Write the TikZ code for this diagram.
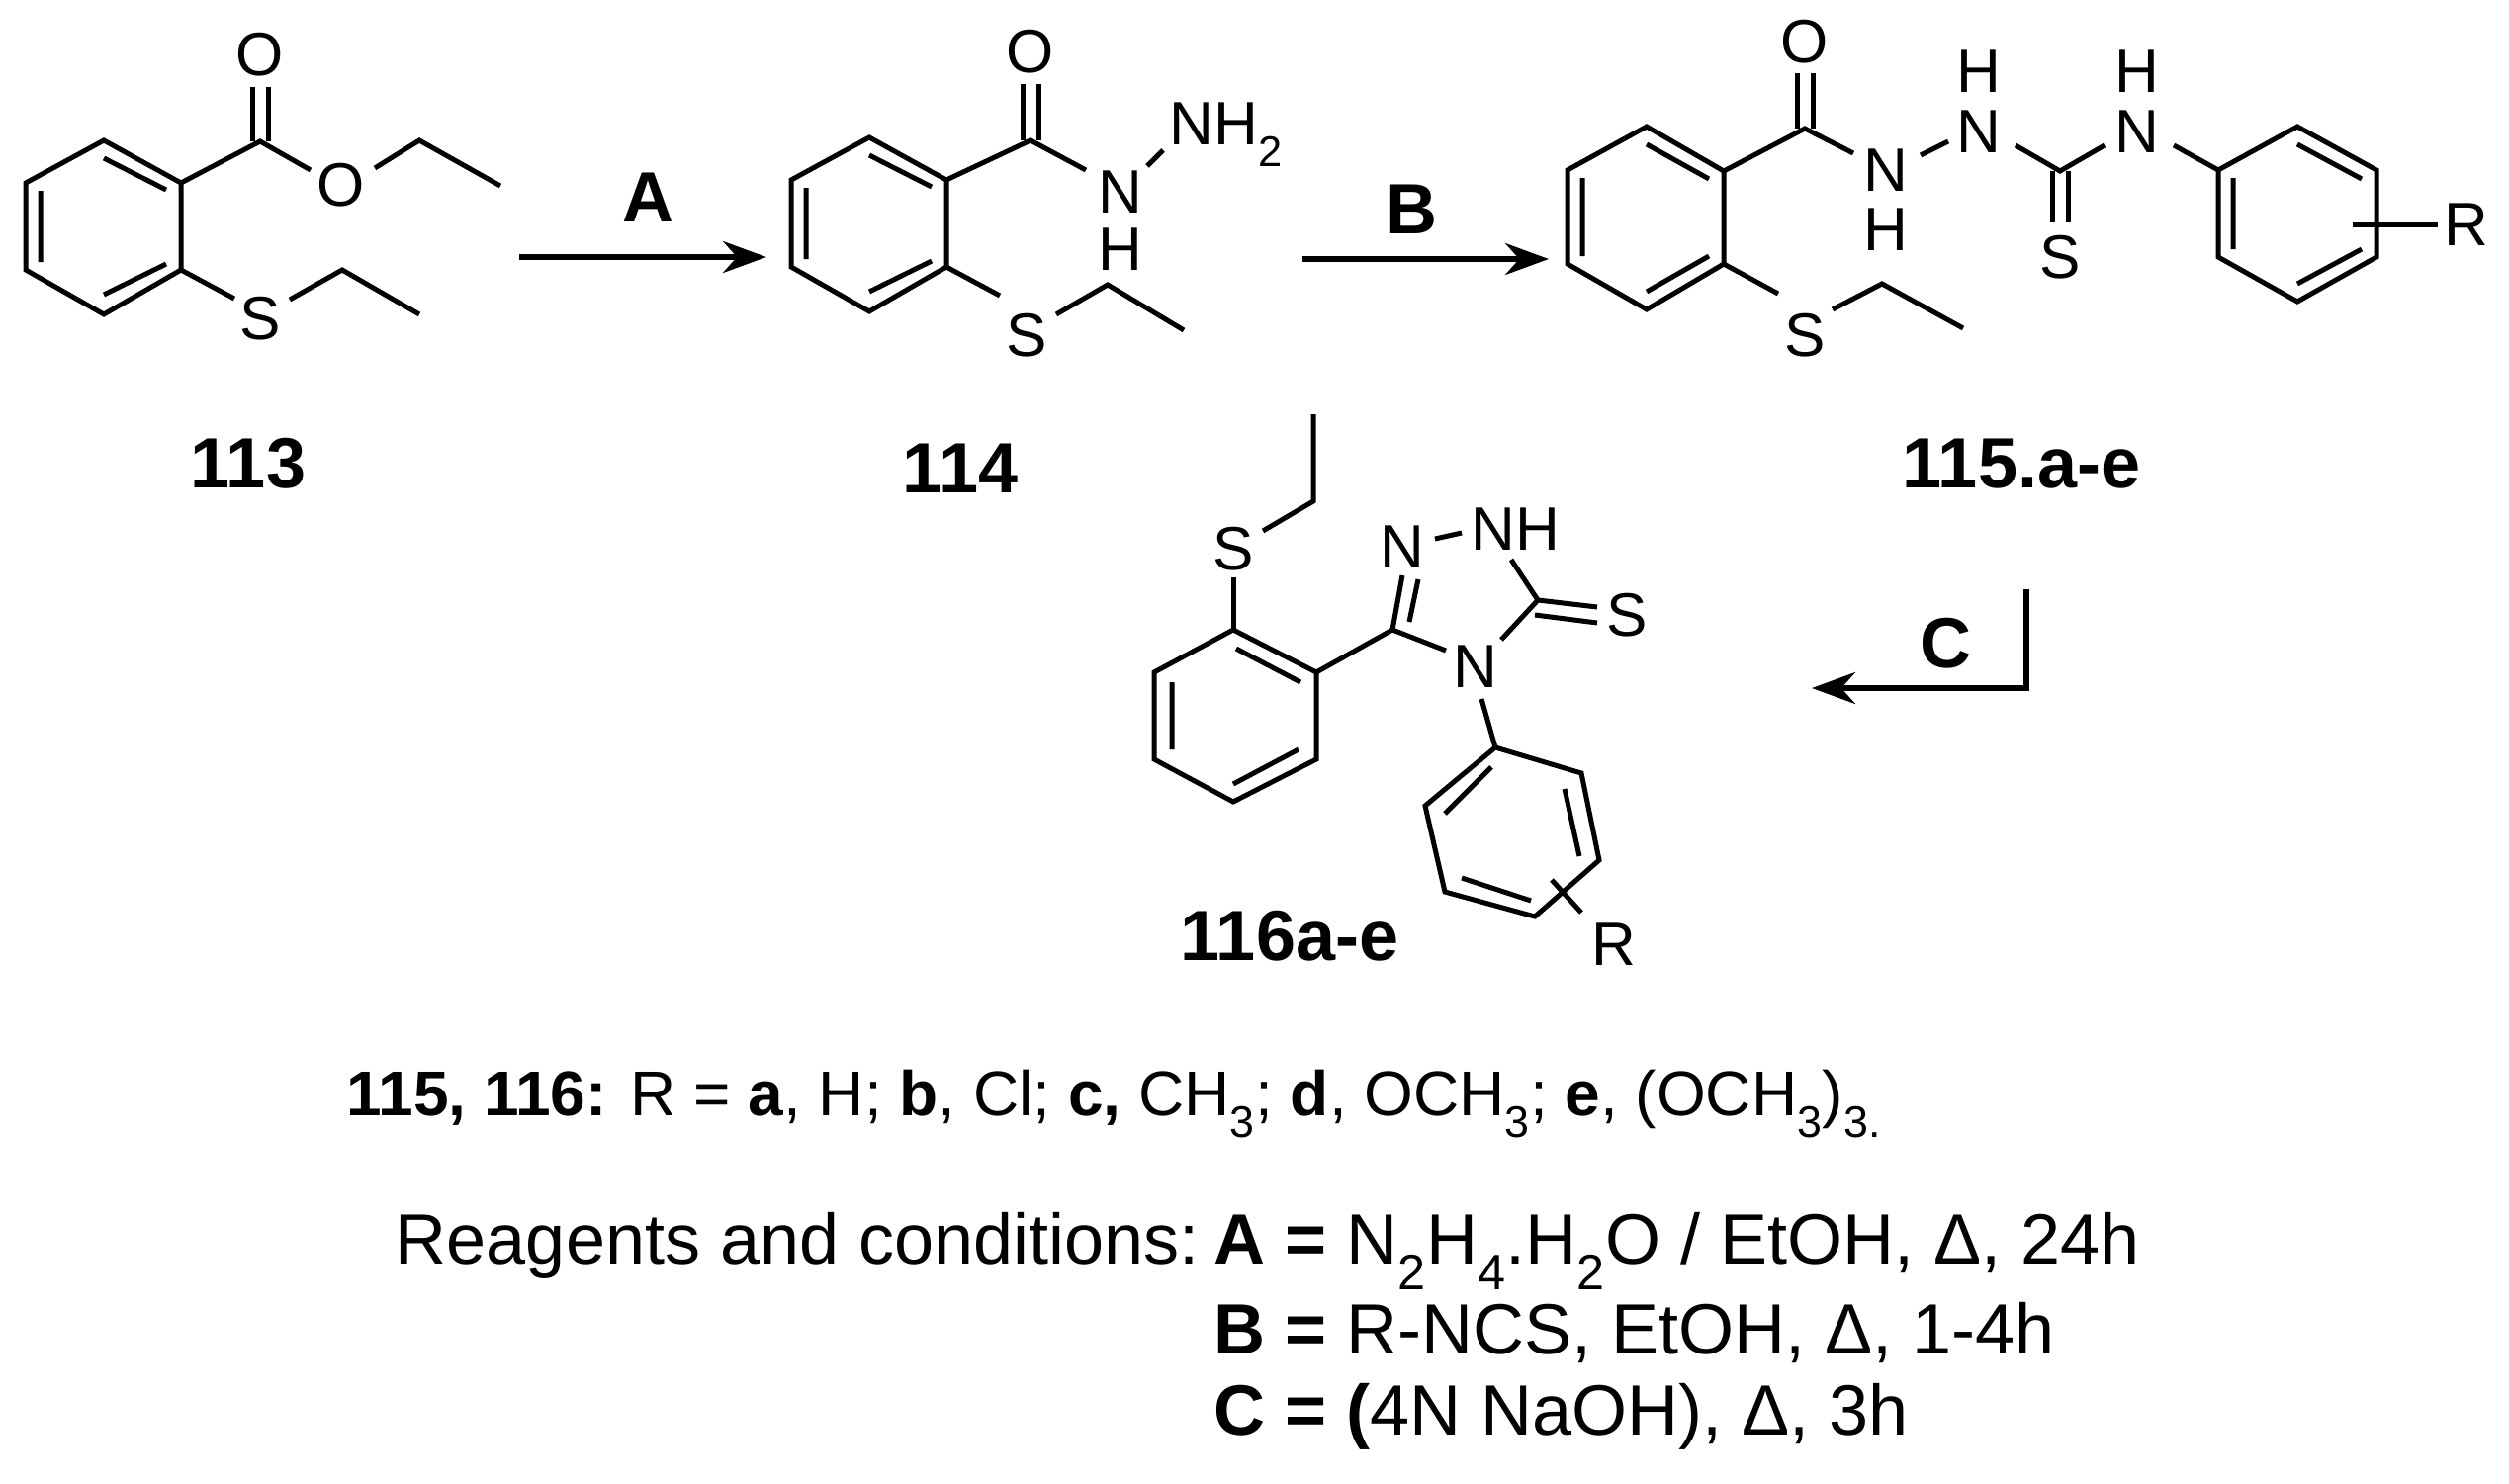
\documentclass[tikz,border=0pt]{standalone}
\usepackage{fontspec}
\setmainfont{Liberation Sans}
\usetikzlibrary{arrows.meta}
\begin{document}
\begin{tikzpicture}[x=1pt,y=-1pt,line width=5pt,line join=miter,
  bond/.style={line width=5pt},
  atom/.style={inner sep=0pt,font=\fontsize{62}{66}\selectfont},
  cpd/.style={inner sep=0pt,font=\fontsize{72}{76}\selectfont\bfseries},
  txt/.style={inner sep=0pt,anchor=base west,font=\fontsize{64}{70}\selectfont},
  txtb/.style={inner sep=0pt,anchor=base west,font=\fontsize{72}{78}\selectfont},
  rxn/.style={line width=5.5pt,-{Stealth[length=44pt,width=32pt]}}]
\useasboundingbox (0,0) rectangle (2537,1500);
\fill[white] (0,0) rectangle (2537,1500);
% ---------- 113 ----------
\begin{scope}
\draw[bond] (105,142)--(183,185)--(183,273)--(105,318)--(26,273)--(26,185)--cycle;
\draw[bond] (105,160)--(168,192) (41,193)--(41,265) (105,298)--(168,267);
\draw[bond] (183,185)--(263,143)--(314,172);
\draw[bond] (255,143)--(255,88) (271,143)--(271,88);
\node[atom] (o1) at (263,55) {O};
\node[atom] (o2) at (345,187) {O};
\draw[bond] (379,170)--(424,142)--(506,188);
\draw[bond] (183,273)--(237,302);
\node[atom] (s1) at (263,322) {S};
\draw[bond] (293,303)--(346,273)--(424,318);
\end{scope}
\node[cpd] (c113) at (251,469) {113};
% arrow A
\coordinate (a1) at (525,260); \coordinate (a2) at (775,260);
\draw[rxn] (a1)--(a2);
\node[cpd] (lA) at (655,200) {A};
% ---------- 114 ----------
\begin{scope}[shift={(774,-3)}]
\draw[bond] (105,142)--(183,185)--(183,273)--(105,318)--(26,273)--(26,185)--cycle;
\draw[bond] (105,160)--(168,192) (41,193)--(41,265) (105,298)--(168,267);
\draw[bond] (183,185)--(268,145)--(324,175);
\draw[bond] (260,145)--(260,88) (276,145)--(276,88);
\draw[bond] (183,273)--(237,302);
\draw[bond] (294,321)--(346,291)--(423,337);
\end{scope}
\node[atom] (o3) at (1042,52) {O};
\node[atom] (n1) at (1133,194) {N};
\node[atom] (h1) at (1133,252) {H};
\node[atom,anchor=west] (nh2) at (1180,136) {NH\textsubscript{2}};
\draw[bond] (1160,168)--(1176,152);
\node[atom] (s2) at (1038,339) {S};
\node[cpd] (c114) at (971,474) {114};
% arrow B
\coordinate (b1) at (1317,262); \coordinate (b2) at (1566,262);
\draw[rxn] (b1)--(b2);
\node[cpd] (lB) at (1427,212) {B};
% ---------- 115 ----------
\draw[bond] (1665,128)--(1743,173)--(1743,267)--(1665,313)--(1585,267)--(1585,172)--cycle;
\draw[bond] (1665,146)--(1728,181) (1600,180)--(1600,259) (1665,295)--(1728,259);
\draw[bond] (1743,173)--(1825,130)--(1874,155);
\draw[bond] (1817,130)--(1817,74) (1833,130)--(1833,74);
\node[atom] (o4) at (1825,42) {O};
\node[atom] (n2) at (1907,172) {N};
\node[atom] (h2) at (1907,232) {H};
\draw[bond] (1942,157)--(1970,143);
\node[atom] (n3) at (2001,133) {N};
\node[atom] (h3) at (2001,72) {H};
\draw[bond] (2038,147)--(2083,173)--(2128,147);
\draw[bond] (2075,173)--(2075,225) (2091,173)--(2091,225);
\node[atom] (s3) at (2083,260) {S};
\node[atom] (n4) at (2161,133) {N};
\node[atom] (h4) at (2161,72) {H};
\draw[bond] (2198,147)--(2243,172);
\draw[bond] (2323,128)--(2403,172)--(2403,260)--(2323,305)--(2243,260)--(2243,172)--cycle;
\draw[bond] (2323,146)--(2388,181) (2258,180)--(2258,252) (2323,287)--(2388,252);
\draw[bond] (2379,227)--(2465,227);
\node[atom] (r1) at (2494,227) {R};
\draw[bond] (1743,267)--(1798,297);
\node[atom] (s4) at (1825,339) {S};
\draw[bond] (1853,313)--(1903,287)--(1985,332);
\node[cpd] (c115) at (2044,469) {115.a-e};
% arrow C
\coordinate (cc1) at (2049,596); \coordinate (cc2) at (2049,696); \coordinate (cc3) at (1832,696);
\draw[rxn] (cc1)--(cc2)--(cc3);
\node[cpd] (lC) at (1967,651) {C};
% ---------- 116 ----------
\draw[bond] (1328,419)--(1328,507)--(1277,537);
\node[atom] (s5) at (1247,555) {S};
\draw[bond] (1247,584)--(1247,637);
\draw[bond] (1247,637)--(1331,680)--(1331,768)--(1247,811)--(1167,768)--(1167,680)--cycle;
\draw[bond] (1250,656)--(1315,690) (1185,690)--(1185,758) (1247,793)--(1313,758);
\draw[bond] (1331,680)--(1408,637)--(1418,582);
\draw[bond] (1425,629)--(1434,586);
\node[atom] (n5) at (1418,553) {N};
\draw[bond] (1451,545)--(1478,539);
\node[atom] (nh) at (1532,535) {NH};
\draw[bond] (1528,566)--(1555,607)--(1518,647);
\draw[bond] (1555,607)--(1615,614) (1552,622)--(1615,630);
\node[atom] (s6) at (1645,622) {S};
\draw[bond] (1408,637)--(1462,658);
\node[atom] (n6) at (1492,674) {N};
\draw[bond] (1498,707)--(1512,756);
\draw[bond] (1512,756)--(1599,782)--(1617,870)--(1552,927)--(1461,902)--(1441,815)--cycle;
\draw[bond] (1461,823)--(1508,776) (1582,798)--(1597,866) (1478,888)--(1548,911);
\draw[bond] (1569,890)--(1599,923);
\node[atom] (r2) at (1632,955) {R};
\node[cpd] (c116) at (1304,947) {116a-e};
% ---------- text ----------
\node[txt] (t1) at (348,1128) {\textbf{115, 116:} R = \textbf{a}, H; \textbf{b}, Cl; \textbf{c,} CH\textsubscript{3}; \textbf{d}, OCH\textsubscript{3}; \textbf{e}, (OCH\textsubscript{3})\textsubscript{3.}};
\node[txtb,anchor=base east] (t2) at (1215,1278) {Reagents and conditions:};
\node[txtb] (t3) at (1225,1278) {\textbf{A =} N\textsubscript{2}H\textsubscript{4}.H\textsubscript{2}O / EtOH, Δ, 24h};
\node[txtb] (t4) at (1225,1369) {\textbf{B =} R-NCS, EtOH, Δ, 1-4h};
\node[txtb] (t5) at (1225,1451) {\textbf{C = (}4N NaOH), Δ, 3h};
\end{tikzpicture}
\end{document}
